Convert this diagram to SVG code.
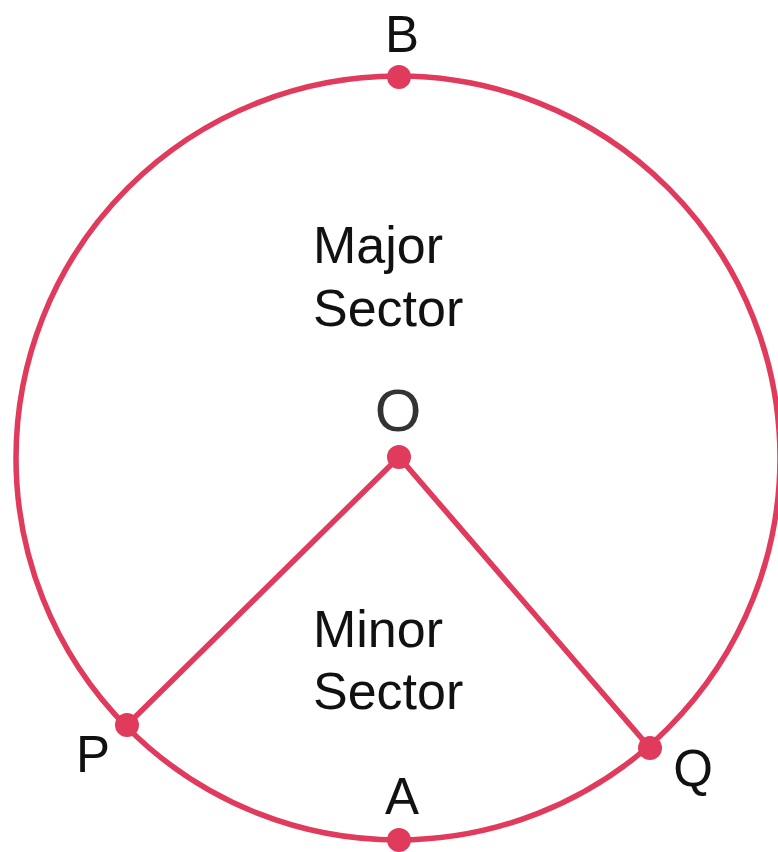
<svg xmlns="http://www.w3.org/2000/svg" width="778" height="852" viewBox="0 0 778 852">
<style>
.edge{fill:none;stroke:#E03A5C;stroke-width:5.5;stroke-linecap:round}
.dot{fill:#E03A5C}
.lbl{font-family:"Liberation Sans",Arial,sans-serif;font-size:51px;fill:#111;text-anchor:middle}
.sec{font-family:"Liberation Sans",Arial,sans-serif;font-size:52px;fill:#111}
</style>
<rect width="778" height="852" fill="#fff"/>
<g id="connectors">
<circle class="edge" cx="398" cy="458" r="382"/>
<line class="edge" x1="399" y1="457" x2="127" y2="725"/>
<line class="edge" x1="399" y1="457" x2="650" y2="748"/>
</g>
<g id="B"><circle class="dot" cx="399" cy="77" r="12"/><text class="lbl" x="402" y="52">B</text></g>
<g id="A"><circle class="dot" cx="399" cy="840" r="12"/><text class="lbl" x="402" y="814">A</text></g>
<g id="O"><circle class="dot" cx="399" cy="457" r="12"/><text class="lbl" x="398" y="431" style="font-size:60px;fill:#333">O</text></g>
<g id="P"><circle class="dot" cx="127" cy="725" r="12"/><text class="lbl" x="93" y="772">P</text></g>
<g id="Q"><circle class="dot" cx="650" cy="748" r="12"/><text class="lbl" x="693" y="786">Q</text></g>
<g id="major"><text class="sec" x="313" y="263">Major</text><text class="sec" x="313" y="326">Sector</text></g>
<g id="minor"><text class="sec" x="313" y="647">Minor</text><text class="sec" x="313" y="709">Sector</text></g>
</svg>
